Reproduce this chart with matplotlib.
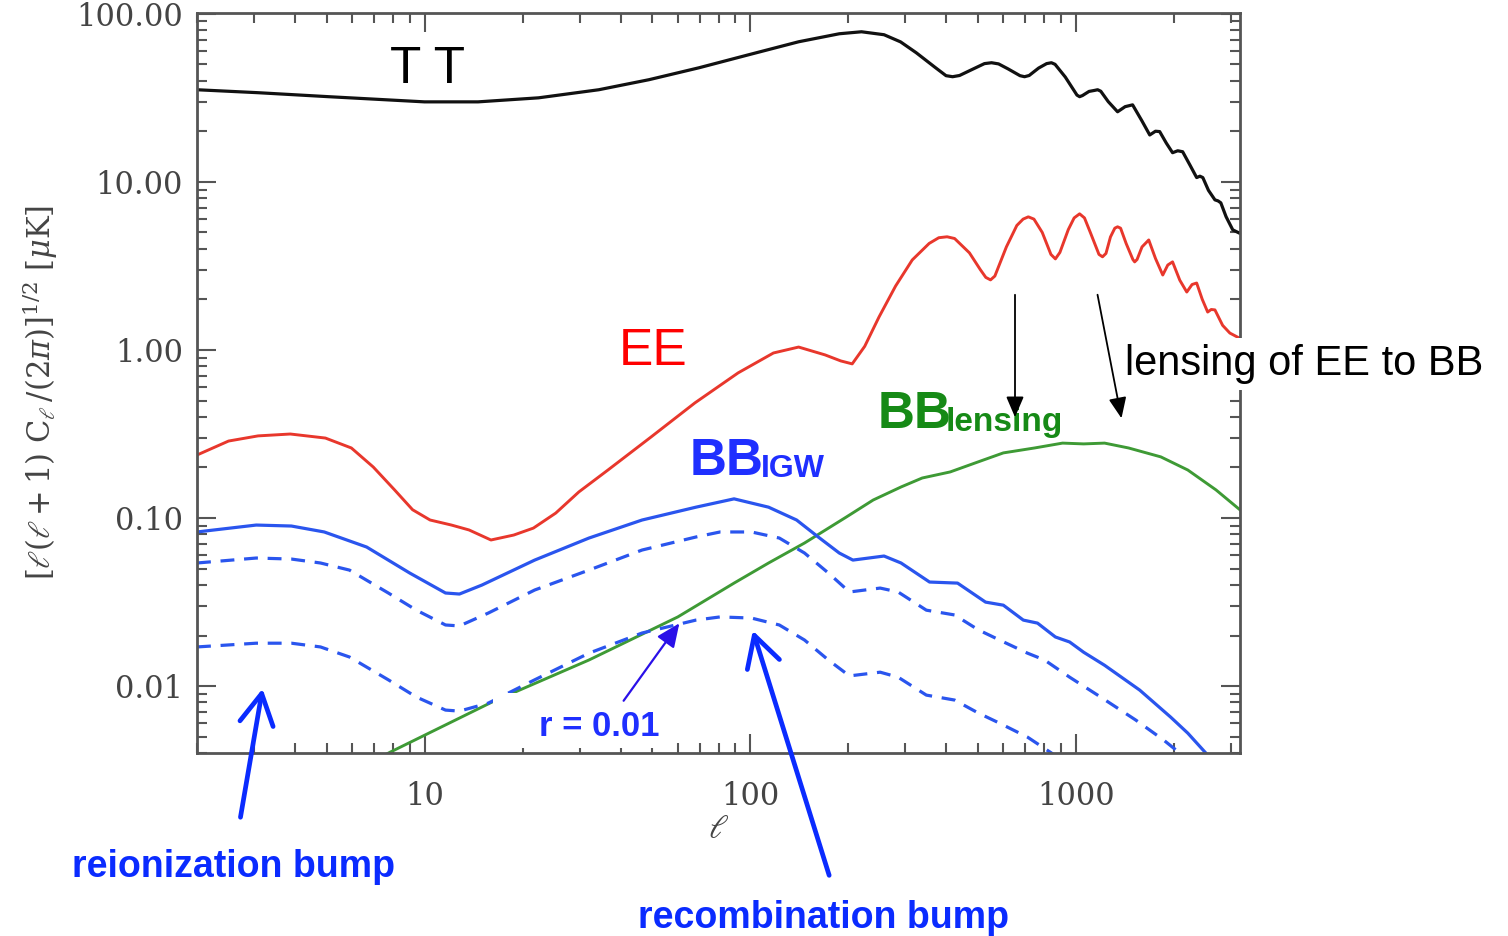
import matplotlib
matplotlib.use("Agg")
import matplotlib.pyplot as plt
from matplotlib import font_manager
from matplotlib.ticker import FixedLocator, FixedFormatter, LogLocator, NullFormatter
from matplotlib.patches import Rectangle, FancyArrowPatch

# ---- CMB angular power spectra, amplitude [l(l+1)C_l/2pi]^(1/2) in muK ----
tt_ell = [2.0, 3.08, 5.07, 10, 14.6, 22.4, 34.3, 48.9, 69.7, 99, 141, 188, 220, 258, 290, 324,
          370, 400, 419, 440, 480, 525, 552, 580, 620, 675, 697, 720, 770, 815, 843, 865, 930,
          1010, 1029, 1050, 1100, 1145, 1169, 1195, 1260, 1346, 1420, 1497, 1600, 1690, 1760,
          1813, 1900, 1986, 2060, 2133, 2250, 2355, 2410, 2460, 2560, 2680, 2740, 2794, 2900,
          3040, 3175]
tt_amp = [35.3, 33.9, 32.1, 29.9, 29.9, 31.6, 35.3, 40.5, 47.7, 57.0, 68.1, 76.0, 78.1, 75.0, 68.0,
          58.6, 48.0, 42.8, 42.2, 42.9, 46.5, 50.5, 51.1, 50.3, 47.0, 42.8, 42.2, 42.9, 47.5, 50.5,
          51.1, 50.0, 42.0, 32.8, 32.1, 32.6, 34.5, 35.0, 35.3, 34.6, 30.0, 26.1, 28.0, 28.7, 23.0,
          19.0, 20.0, 19.9, 17.0, 14.9, 15.3, 15.1, 12.5, 10.6, 10.8, 10.6, 8.9, 7.81, 7.7, 7.5,
          6.2, 5.18, 4.97]

ee_ell = [2.0, 2.5, 3.08, 3.87, 4.96, 5.96, 6.96, 8.09, 9.19, 10.4, 12.1, 13.7, 16.0, 18.8, 21.6,
          25.3, 29.8, 36.6, 49.6, 67.7, 91.9, 118, 141, 170, 190, 206, 225, 249, 280, 315, 355,
          380, 403, 425, 472, 510, 530, 548, 565, 613, 660, 690, 716, 745, 790, 840, 867, 895,
          950, 990, 1029, 1065, 1110, 1180, 1210, 1240, 1280, 1320, 1346, 1375, 1430, 1500,
          1519, 1545, 1600, 1678, 1760, 1853, 1920, 1986, 2090, 2196, 2280, 2355, 2450, 2546,
          2610, 2680, 2830, 2978, 3175]
ee_amp = [0.237, 0.287, 0.308, 0.316, 0.299, 0.261, 0.201, 0.147, 0.112, 0.0973, 0.0908, 0.0849,
          0.0740, 0.0792, 0.0871, 0.107, 0.143, 0.193, 0.303, 0.484, 0.730, 0.959, 1.04, 0.934,
          0.86, 0.826, 1.05, 1.57, 2.4, 3.43, 4.3, 4.65, 4.71, 4.6, 3.78, 3.0, 2.7, 2.61, 2.75,
          4.10, 5.5, 6.0, 6.19, 6.0, 5.0, 3.7, 3.48, 3.8, 5.2, 6.1, 6.45, 6.1, 5.0, 3.7, 3.58,
          3.75, 4.7, 5.3, 5.40, 5.3, 4.3, 3.45, 3.34, 3.45, 4.1, 4.51, 3.5, 2.79, 3.2, 3.34, 2.6,
          2.21, 2.45, 2.50, 2.0, 1.68, 1.74, 1.73, 1.4, 1.26, 1.18]

# primordial (gravitational-wave) B modes: solid and two dashed tensor-to-scalar ratios
bb_ell = [2.0, 3.04, 3.90, 4.92, 6.64, 9.00, 11.6, 12.8, 15.0, 21.8, 32.0, 46.6, 68.2, 89.3, 114,
          139, 162, 188, 207, 258, 291, 356, 434, 529, 600, 691, 764, 867, 959, 1059, 1228, 1574,
          1959, 2212, 2512, 2600]
bb_amp = [0.0826, 0.0908, 0.0896, 0.0826, 0.0672, 0.0471, 0.0358, 0.0353, 0.0399, 0.0562, 0.0760,
          0.0973, 0.116, 0.130, 0.116, 0.0973, 0.0771, 0.0619, 0.0562, 0.0594, 0.0540, 0.0416,
          0.0410, 0.0316, 0.0303, 0.0247, 0.0237, 0.0196, 0.0183, 0.0159, 0.0133, 0.00947,
          0.00654, 0.00525, 0.0040, 0.0036]

bb_mid_ell = [2.0, 3.04, 3.90, 4.79, 5.88, 7.74, 9.44, 11.6, 12.8, 15.7, 21.8, 32.0, 46.6, 68.2,
              80.9, 101, 123, 147, 174, 202, 251, 285, 348, 425, 503, 584, 712, 803, 959, 1194,
              1531, 1866, 2089, 2200]
bb_mid_amp = [0.0540, 0.0578, 0.0570, 0.0540, 0.0490, 0.0358, 0.0283, 0.0231, 0.0228, 0.0272,
              0.0373, 0.0490, 0.0645, 0.0771, 0.0826, 0.0826, 0.0760, 0.0619, 0.0471, 0.0363,
              0.0383, 0.0363, 0.0283, 0.0265, 0.0216, 0.0188, 0.0157, 0.0143, 0.0113, 0.00861,
              0.00628, 0.00477, 0.0040, 0.0036]

bb_low_ell = [2.0, 3.04, 3.90, 4.79, 5.88, 7.74, 9.44, 11.6, 12.8, 15.7, 21.8, 32.0, 46.6, 68.2,
              80.9, 101, 123, 147, 174, 202, 251, 285, 348, 425, 503, 584, 712, 843, 900]
bb_low_amp = [0.0171, 0.0180, 0.0180, 0.0171, 0.0149, 0.0109, 0.00861, 0.00720, 0.00710, 0.00792,
              0.0109, 0.0157, 0.0207, 0.0247, 0.0258, 0.0254, 0.0231, 0.0188, 0.0143, 0.0115,
              0.0121, 0.0113, 0.00884, 0.00826, 0.00691, 0.00602, 0.00497, 0.0040, 0.0036]

# B modes generated by gravitational lensing of E modes
bbl_ell = [7.0, 7.85, 16.1, 32.0, 60.0, 89.3, 114, 147, 197, 239, 291, 338, 412, 503, 600, 748,
           912, 1059, 1228, 1455, 1828, 2212, 2700, 3197]
bbl_amp = [0.0036, 0.00405, 0.00803, 0.0143, 0.0258, 0.0410, 0.0540, 0.0710, 0.101, 0.128, 0.153,
           0.173, 0.188, 0.216, 0.244, 0.261, 0.279, 0.276, 0.279, 0.261, 0.231, 0.193, 0.147,
           0.112]

y_major = [0.01, 0.1, 1.0, 10.0, 100.0]
y_labels = ["0.01", "0.10", "1.00", "10.00", "100.00"]
x_major = [10, 100, 1000]
x_labels = ["10", "100", "1000"]

W, H = 1508, 936

names = {f.name for f in font_manager.fontManager.ttflist}
HAS_NARROW = "Liberation Sans Narrow" in names
NARROW = "Liberation Sans Narrow" if HAS_NARROW else "Liberation Sans"
SUB_SIZE = 27 if HAS_NARROW else 23
SANS = "Liberation Sans"
plt.rcParams["mathtext.fontset"] = "dejavuserif"
plt.rcParams["lines.scale_dashes"] = False


def fx(px):
    return px / W


def fy(py):
    return 1 - py / H


fig = plt.figure(figsize=(W / 100, H / 100), dpi=100)
fig.patch.set_facecolor("white")
ax = fig.add_axes([fx(197), fy(753), (1240 - 197) / W, (753 - 13) / H])

ax.set_xscale("log")
ax.set_yscale("log")
ax.set_xlim(2, 3200)
ax.set_ylim(0.004, 101)

red = "#e8372c"
blue = "#2a55ee"
green = "#3e9a35"

ax.plot(tt_ell, tt_amp, color="#111111", lw=2.3, solid_joinstyle="round")
ax.plot(ee_ell, ee_amp, color=red, lw=2.1, solid_joinstyle="round")
ax.plot(bbl_ell, bbl_amp, color=green, lw=2.1, solid_joinstyle="round")
ax.plot(bb_ell, bb_amp, color=blue, lw=2.3, solid_joinstyle="round")
for e, a in ((bb_mid_ell, bb_mid_amp), (bb_low_ell, bb_low_amp)):
    ln, = ax.plot(e, a, color=blue, lw=2.3)
    ln.set_dashes((10, 7))

# axes frame and IDL-style ticks
for s in ax.spines.values():
    s.set_linewidth(2.0)
    s.set_color("#555555")
ax.xaxis.set_major_locator(FixedLocator(x_major))
ax.xaxis.set_major_formatter(FixedFormatter(x_labels))
ax.xaxis.set_minor_locator(LogLocator(base=10, subs=range(2, 10)))
ax.xaxis.set_minor_formatter(NullFormatter())
ax.yaxis.set_major_locator(FixedLocator(y_major))
ax.yaxis.set_major_formatter(FixedFormatter(y_labels))
ax.yaxis.set_minor_locator(LogLocator(base=10, subs=range(2, 10)))
ax.yaxis.set_minor_formatter(NullFormatter())
ax.tick_params(which="both", direction="in", top=True, right=True, color="#555555",
               labelcolor="#444444", width=1.5)
ax.tick_params(which="major", length=14)
ax.tick_params(which="minor", length=7)
ax.tick_params(axis="x", which="major", pad=20)
ax.tick_params(axis="y", which="major", pad=10)
for lab in ax.get_xticklabels() + ax.get_yticklabels():
    lab.set_fontfamily("DejaVu Serif")
    lab.set_fontsize(22)

fig.text(fx(718), fy(828), r"$\ell$", ha="center", va="center", fontsize=24, color="#444444")
fig.text(fx(40), fy(392), r"$[\ell(\ell+1)\ \mathrm{C}_{\ell}\,/(2\pi)]^{1/2}\ [\mu\mathrm{K}]$",
         rotation=90, ha="center", va="center", fontsize=22, color="#444444")

# curve labels
fig.text(fx(428), fy(83), "T T", ha="center", va="baseline", fontsize=37, color="black",
         family=SANS)
fig.text(fx(653), fy(365), "EE", ha="center", va="baseline", fontsize=37, color="#ff0000",
         family=SANS)
lab_blue = "#1f2fff"
lab_green = "#168a16"
fig.text(fx(690), fy(475), "BB", ha="left", va="baseline", fontsize=37, color=lab_blue,
         family=SANS, weight="bold")
fig.text(fx(761), fy(477), "IGW", ha="left", va="baseline", fontsize=SUB_SIZE, color=lab_blue,
         family=NARROW, weight="bold")
fig.text(fx(878), fy(428), "BB", ha="left", va="baseline", fontsize=37, color=lab_green,
         family=SANS, weight="bold")
fig.text(fx(946), fy(431), "lensing", ha="left", va="baseline", fontsize=SUB_SIZE + 1,
         color=lab_green, family=NARROW, weight="bold")

# lensing note, boxed over the right frame
fig.add_artist(Rectangle((fx(1077), fy(390)), (1508 - 1077) / W, 52 / H,
                         transform=fig.transFigure, facecolor="white", edgecolor="none",
                         zorder=5))
fig.text(fx(1125), fy(375), "lensing of EE to BB", ha="left", va="baseline", fontsize=30,
         color="black", family=SANS, zorder=6)
for (x0, y0), (x1, y1) in (((1015, 292), (1015, 420)), ((1097, 292), (1122, 421))):
    fig.add_artist(FancyArrowPatch(
        (fx(x0), fy(y0)), (fx(x1), fy(y1)), transform=fig.transFigure,
        arrowstyle="-|>,head_length=0.7,head_width=0.3", mutation_scale=18,
        color="black", lw=1.3, zorder=6))

# tensor-to-scalar ratio tag
fig.add_artist(Rectangle((fx(493), fy(748)), (668 - 493) / W, (748 - 693) / H,
                         transform=fig.transFigure, facecolor="white", edgecolor="none",
                         zorder=5))
fig.text(fx(539), fy(736), "r = 0.01", ha="left", va="baseline", fontsize=SUB_SIZE + 2,
         color=lab_blue, family=NARROW, weight="bold", zorder=6)
fig.add_artist(FancyArrowPatch(
    (fx(622), fy(703)), (fx(681), fy(621)), transform=fig.transFigure,
    arrowstyle="-|>,head_length=0.8,head_width=0.35", mutation_scale=18,
    color="#2a10e8", lw=1.6, zorder=6))

# bump annotations below the axes
bump_blue = "#0a2bff"
for (x0, y0), (x1, y1) in (((240, 820), (263, 686)), ((830, 878), (752, 628))):
    fig.add_artist(FancyArrowPatch(
        (fx(x0), fy(y0)), (fx(x1), fy(y1)), transform=fig.transFigure,
        arrowstyle="->,head_length=1.0,head_width=0.55", mutation_scale=22,
        color=bump_blue, lw=3.4, zorder=6))
fig.text(fx(72), fy(877), "reionization bump", ha="left", va="baseline", fontsize=27,
         color=bump_blue, family=SANS, weight="bold")
fig.text(fx(638), fy(928), "recombination bump", ha="left", va="baseline", fontsize=27,
         color=bump_blue, family=SANS, weight="bold")

fig.savefig("out.png", dpi=100, facecolor="white")
